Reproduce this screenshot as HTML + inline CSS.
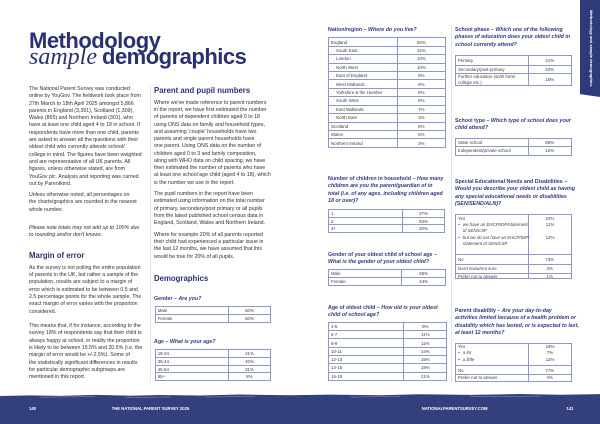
<!DOCTYPE html>
<html>
<head>
<meta charset="utf-8">
<style>
html,body{margin:0;padding:0;}
body{width:600px;height:424px;position:relative;overflow:hidden;background:#fff;font-family:"Liberation Sans",sans-serif;}
.a{position:absolute;white-space:nowrap;}
.b{position:absolute;white-space:nowrap;font-size:5.25px;color:#2f2f33;}
.h{position:absolute;white-space:nowrap;font-size:7.8px;line-height:10px;font-weight:bold;color:#2a3275;}
.q{position:absolute;white-space:nowrap;font-size:5.3px;font-weight:bold;color:#2f3a80;}
.tb{position:absolute;border:0.7px solid #9096c8;box-sizing:border-box;display:flex;flex-direction:column;font-size:4.4px;color:#3c3c46;line-height:5px;}
.r{flex:1;display:flex;border-top:0.7px solid #9096c8;box-sizing:border-box;position:relative;}
.r:first-child{border-top:none;}
.c1{box-sizing:border-box;width:var(--w);border-right:0.7px solid #9096c8;padding-left:2px;display:flex;align-items:center;white-space:nowrap;}
.c2{flex:1;display:flex;align-items:center;justify-content:center;}
.in{padding-left:7px;}
.p{position:absolute;white-space:nowrap;}
.vl{position:absolute;width:0.7px;background:#e4e4ec;}
.ft{position:absolute;white-space:nowrap;font-size:4.2px;line-height:5px;font-weight:bold;color:#fff;}
</style>
</head>
<body>

<!-- Title -->
<div class="a" style="left:29px;top:29.7px;font-size:22px;line-height:22px;font-weight:bold;color:#2a3170;letter-spacing:-0.5px;">Methodology</div>
<div class="a" style="left:29px;top:44.9px;font-size:24px;line-height:24px;font-family:'Liberation Serif',serif;font-style:italic;color:#2a3170;">sample</div>
<div class="a" style="left:102px;top:46.4px;font-size:22px;line-height:22px;font-weight:bold;color:#2a3170;letter-spacing:-0.5px;">demographics</div>

<!-- Column dividers -->
<div class="vl" style="left:150px;top:85px;height:298px;"></div>
<div class="vl" style="left:451px;top:25px;height:358px;"></div>

<!-- Left column -->
<div class="b" style="left:29px;top:85.9px;line-height:7.32px;">The National Parent Survey was conducted<br>online by YouGov. The fieldwork took place from<br>27th March to 18th April 2025 amongst 5,866<br>parents in England (3,391), Scotland (1,309),<br>Wales (865) and Northern Ireland (301), who<br>have at least one child aged 4 to 18 in school. If<br>respondents have more than one child, parents<br>are asked to answer all the questions with their<br>oldest child who currently attends school/<br>college in mind. The figures have been weighted<br>and are representative of all UK parents. All<br>figures, unless otherwise stated, are from<br>YouGov plc. Analysis and reporting was carried<br>out by Parentkind.</div>
<div class="b" style="left:29px;top:191.9px;line-height:7.5px;">Unless otherwise noted, all percentages on<br>the charts/graphics are rounded to the nearest<br>whole number.</div>
<div class="b" style="left:29px;top:224.6px;line-height:7.3px;font-style:italic;">Please note totals may not add up to 100% due<br>to rounding and/or don't knows.</div>
<div class="h" style="left:29px;top:251.3px;">Margin of error</div>
<div class="b" style="left:29px;top:264.6px;line-height:7.38px;">As the survey is not polling the entire population<br>of parents in the UK, but rather a sample of the<br>population, results are subject to a margin of<br>error which is estimated to be between 0.5 and<br>2.5 percentage points for the whole sample. The<br>exact margin of error varies with the proportion<br>considered.</div>
<div class="b" style="left:29px;top:322.9px;line-height:7.33px;">This means that, if for instance, according to the<br>survey 18% of respondents say that their child is<br>always happy at school, in reality the proportion<br>is likely to be between 15.5% and 20.5% (i.e. the<br>margin of error would be +/-2.5%). Some of<br>the statistically significant differences in results<br>for particular demographic subgroups are<br>mentioned in this report.</div>

<!-- Middle column -->
<div class="h" style="left:154px;top:85.9px;">Parent and pupil numbers</div>
<div class="b" style="left:154px;top:99.9px;line-height:7.25px;">Where we've made reference to parent numbers<br>in the report, we have first estimated the number<br>of parents of dependent children aged 0 to 18<br>using ONS data on family and household types,<br>and assuming 'couple' households have two<br>parents and single parent households have<br>one parent. Using ONS data on the number of<br>children aged 0 to 3 and family composition,<br>along with WHO data on child spacing, we have<br>then estimated the number of parents who have<br>at least one school age child (aged 4 to 18), which<br>is the number we use in the report.</div>
<div class="b" style="left:154px;top:190.9px;line-height:7.33px;">The pupil numbers in the report have been<br>estimated using information on the total number<br>of primary, secondary/post primary or all pupils<br>from the latest published school census data in<br>England, Scotland, Wales and Northern Ireland.</div>
<div class="b" style="left:154px;top:231.6px;line-height:7.33px;">Where for example 20% of all parents reported<br>their child had experienced a particular issue in<br>the last 12 months, we have assumed that this<br>would be true for 20% of all pupils.</div>
<div class="h" style="left:154px;top:273.6px;">Demographics</div>

<div class="q" style="left:154px;top:296.1px;line-height:7.5px;">Gender – <i>Are you?</i></div>
<div class="tb" style="left:154.7px;top:306.3px;width:116.6px;height:16.4px;--w:73px;">
  <div class="r"><div class="c1">Male</div><div class="c2">50%</div></div>
  <div class="r"><div class="c1">Female</div><div class="c2">50%</div></div>
</div>

<div class="q" style="left:154px;top:338.8px;line-height:7.5px;">Age – <i>What is your age?</i></div>
<div class="tb" style="left:154.7px;top:349px;width:116.6px;height:32.3px;--w:73px;">
  <div class="r"><div class="c1">18-34</div><div class="c2">21%</div></div>
  <div class="r"><div class="c1">35-44</div><div class="c2">40%</div></div>
  <div class="r"><div class="c1">45-54</div><div class="c2">31%</div></div>
  <div class="r"><div class="c1">55+</div><div class="c2">8%</div></div>
</div>

<!-- Right page, column 1 -->
<div class="q" style="left:328px;top:26.8px;line-height:7.5px;">Nation/region – <i>Where do you live?</i></div>
<div class="tb" style="left:328px;top:37.3px;width:118px;height:110.4px;--w:68.7px;">
  <div class="r"><div class="c1">England</div><div class="c2">84%</div></div>
  <div class="r"><div class="c1 in">South East</div><div class="c2">14%</div></div>
  <div class="r"><div class="c1 in">London</div><div class="c2">13%</div></div>
  <div class="r"><div class="c1 in">North West</div><div class="c2">10%</div></div>
  <div class="r"><div class="c1 in">East of England</div><div class="c2">9%</div></div>
  <div class="r"><div class="c1 in">West Midlands</div><div class="c2">9%</div></div>
  <div class="r"><div class="c1 in">Yorkshire &amp; the Humber</div><div class="c2">8%</div></div>
  <div class="r"><div class="c1 in">South West</div><div class="c2">8%</div></div>
  <div class="r"><div class="c1 in">East Midlands</div><div class="c2">7%</div></div>
  <div class="r"><div class="c1 in">North East</div><div class="c2">3%</div></div>
  <div class="r"><div class="c1">Scotland</div><div class="c2">8%</div></div>
  <div class="r"><div class="c1">Wales</div><div class="c2">5%</div></div>
  <div class="r"><div class="c1">Northern Ireland</div><div class="c2">3%</div></div>
</div>

<div class="q" style="left:328px;top:175.8px;line-height:7.57px;">Number of children in household – <i>How many</i><br><i>children are you the parent/guardian of in</i><br><i>total (i.e. of any ages, including children aged</i><br><i>18 or over)?</i></div>
<div class="tb" style="left:328px;top:209.3px;width:117.3px;height:23.4px;--w:73.7px;">
  <div class="r"><div class="c1">1</div><div class="c2">27%</div></div>
  <div class="r"><div class="c1">2</div><div class="c2">53%</div></div>
  <div class="r"><div class="c1">3+</div><div class="c2">20%</div></div>
</div>

<div class="q" style="left:328px;top:251.8px;line-height:7.5px;">Gender of your oldest child of school age –<br><i>What is the gender of your oldest child?</i></div>
<div class="tb" style="left:328px;top:269px;width:118px;height:17px;--w:73.3px;">
  <div class="r"><div class="c1">Male</div><div class="c2">55%</div></div>
  <div class="r"><div class="c1">Female</div><div class="c2">44%</div></div>
</div>

<div class="q" style="left:328px;top:304.8px;line-height:7.3px;">Age of oldest child – <i>How old is your oldest</i><br><i>child of school age?</i></div>
<div class="tb" style="left:328px;top:321.7px;width:119.3px;height:59.3px;--w:75.3px;">
  <div class="r"><div class="c1">4-5</div><div class="c2">9%</div></div>
  <div class="r"><div class="c1">6-7</div><div class="c2">11%</div></div>
  <div class="r"><div class="c1">8-9</div><div class="c2">11%</div></div>
  <div class="r"><div class="c1">10-11</div><div class="c2">14%</div></div>
  <div class="r"><div class="c1">12-13</div><div class="c2">15%</div></div>
  <div class="r"><div class="c1">14-15</div><div class="c2">18%</div></div>
  <div class="r"><div class="c1">16-18</div><div class="c2">21%</div></div>
</div>

<!-- Right column -->
<div class="q" style="left:455px;top:26.8px;line-height:7.5px;">School phase – <i>Which one of the following</i><br><i>phases of education does your oldest child in</i><br><i>school currently attend?</i></div>
<div class="tb" style="left:455px;top:55px;width:116.7px;height:30.7px;--w:72.7px;">
  <div class="r" style="flex:0 0 9px;"><div class="c1">Primary</div><div class="c2">41%</div></div>
  <div class="r" style="flex:0 0 8px;"><div class="c1">Secondary/post-primary</div><div class="c2">42%</div></div>
  <div class="r" style="flex:1 1 auto;"><div class="c1" style="line-height:5.6px;">Further education (sixth form/<br>college etc.)</div><div class="c2">16%</div></div>
</div>

<div class="q" style="left:455px;top:117.5px;line-height:7px;">School type – <i>Which type of school does your</i><br><i>child attend?</i></div>
<div class="tb" style="left:455px;top:137.7px;width:116.7px;height:18px;--w:72.7px;">
  <div class="r"><div class="c1">State school</div><div class="c2">88%</div></div>
  <div class="r"><div class="c1">Independent/private school</div><div class="c2">12%</div></div>
</div>

<div class="q" style="left:455px;top:178.5px;line-height:7.53px;">Special Educational Needs and Disabilities –<br><i>Would you describe your oldest child as having</i><br><i>any special educational needs or disabilities</i><br><i>(SEN/SEND/ALN)?</i></div>
<div class="tb" style="left:455px;top:214px;width:116.7px;height:65.3px;--w:72.7px;">
  <div class="r" style="flex:0 0 39.3px;">
    <div class="c1"></div><div class="c2"></div>
    <div class="p" style="left:2px;top:1.4px;">Yes</div>
    <div class="p" style="left:2.2px;top:7.1px;">•</div>
    <div class="p" style="left:6.8px;top:7.1px;font-style:italic;">we have an EHCP/IDP/statement</div>
    <div class="p" style="left:6.8px;top:13.4px;font-style:italic;">of SEN/CSP</div>
    <div class="p" style="left:2.2px;top:19.7px;">•</div>
    <div class="p" style="left:6.8px;top:19.7px;font-style:italic;">but we do not have an EHCP/IDP/</div>
    <div class="p" style="left:6.8px;top:25.7px;font-style:italic;">statement of SEN/CSP</div>
    <div class="p" style="left:94px;top:1.4px;transform:translateX(-50%);">23%</div>
    <div class="p" style="left:94px;top:7.1px;transform:translateX(-50%);">11%</div>
    <div class="p" style="left:94px;top:19.7px;transform:translateX(-50%);">12%</div>
  </div>
  <div class="r" style="flex:0 0 9.7px;"><div class="c1">No</div><div class="c2">73%</div></div>
  <div class="r" style="flex:0 0 8.7px;"><div class="c1">Don't know/not sure</div><div class="c2">3%</div></div>
  <div class="r" style="flex:1 1 auto;"><div class="c1">Prefer not to answer</div><div class="c2">1%</div></div>
</div>

<div class="q" style="left:455px;top:308.1px;line-height:7.33px;">Parent disability – <i>Are your day-to-day</i><br><i>activities limited because of a health problem or</i><br><i>disability which has lasted, or is expected to last,</i><br><i>at least 12 months?</i></div>
<div class="tb" style="left:455px;top:342.7px;width:116.7px;height:39px;--w:72.7px;">
  <div class="r" style="flex:0 0 21.6px;">
    <div class="c1"></div><div class="c2"></div>
    <div class="p" style="left:2px;top:0.1px;">Yes</div>
    <div class="p" style="left:2.2px;top:6.8px;">•</div>
    <div class="p" style="left:6.8px;top:6.8px;font-style:italic;">a lot</div>
    <div class="p" style="left:2.2px;top:13.1px;">•</div>
    <div class="p" style="left:6.8px;top:13.1px;font-style:italic;">a little</div>
    <div class="p" style="left:94px;top:0.1px;transform:translateX(-50%);">19%</div>
    <div class="p" style="left:94px;top:6.8px;transform:translateX(-50%);">7%</div>
    <div class="p" style="left:94px;top:13.1px;transform:translateX(-50%);">12%</div>
  </div>
  <div class="r" style="flex:0 0 8.7px;"><div class="c1">No</div><div class="c2">77%</div></div>
  <div class="r" style="flex:1 1 auto;"><div class="c1">Prefer not to answer</div><div class="c2">4%</div></div>
</div>

<!-- Vertical tab -->
<div class="a" style="left:580px;top:0;width:20px;height:97px;background:#2f3a7a;clip-path:polygon(0 0,100% 0,100% 100%,0 97%);"></div>
<div class="a" style="left:589.2px;top:10px;writing-mode:vertical-rl;font-size:4px;line-height:5px;font-weight:bold;color:#fff;">Methodology and sample demographics</div>

<!-- Footer -->
<svg class="a" style="left:0;top:393px;" width="600" height="31" viewBox="0 0 600 31">
  <path d="M0,3 L30,2.4 L60,2.9 L95,1.9 L130,2.7 L160,2 L200,2.5 L240,1.5 L290,2.2 L330,1.6 L380,2.3 L420,1.2 L470,1.9 L520,1 L560,1.7 L600,1.1 V31 H0 Z" fill="#343f7e"/>
  <path d="M40,4.2 L95,3.6 M125,4.6 L170,3.9 M205,4 L255,3.4 M350,4.1 L400,3.5 M470,3.6 L540,3.1" stroke="#ffffff" stroke-width="0.5" opacity="0.45" fill="none"/>
</svg>
<div class="ft" style="left:29px;top:406.2px;">140</div>
<div class="ft" style="left:111.7px;top:406.2px;">THE NATIONAL PARENT SURVEY 2025</div>
<div class="ft" style="left:421.7px;top:406.2px;">NATIONALPARENTSURVEY.COM</div>
<div class="ft" style="left:566.5px;top:406.2px;">141</div>

</body>
</html>
